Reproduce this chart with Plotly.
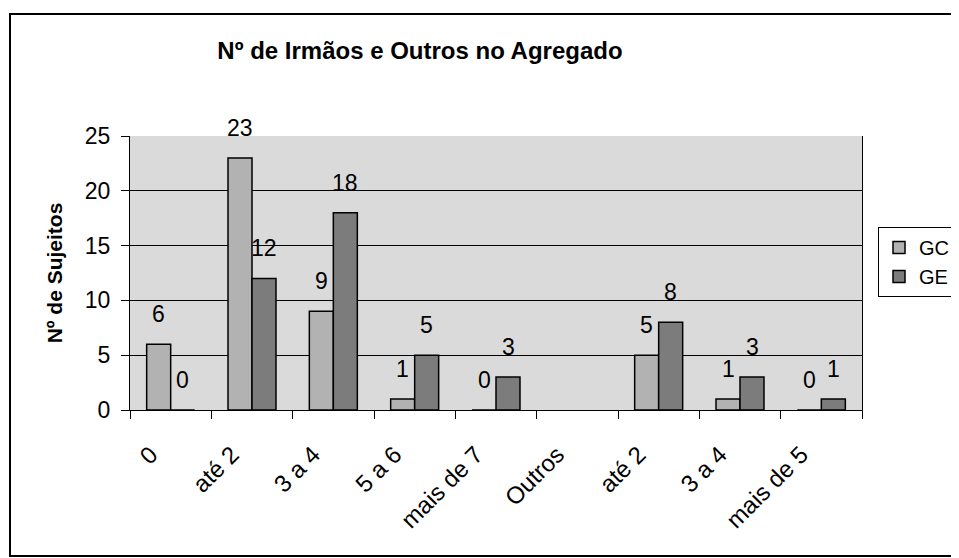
import plotly.graph_objects as go

categories = ["0", "até 2", "3 a 4", "5 a 6", "mais de 7", "Outros", "até 2", "3 a 4", "mais de 5"]
gc_values = [6, 23, 9, 1, 0, None, 5, 1, 0]
ge_values = [0, 12, 18, 5, 3, None, 8, 3, 1]
y_ticks = [0, 5, 10, 15, 20, 25]

positions = list(range(len(categories)))

# page has an 8px body margin; figure pixels = page pixels - 8
OFF = 8
W, H = 959 - OFF, 558 - OFF
L, R, T, B = 130 - OFF, 959 - 862, 136 - OFF, 558 - 410
pw, ph = W - L - R, H - T - B

def px_x(p):  # page pixel -> paper x
    return (p - OFF - L) / pw

def px_y(p):  # page pixel -> paper y
    return (H - B - (p - OFF)) / ph

font = "Liberation Sans, Arial, sans-serif"
BARGAP = 0.41
half = (1 - BARGAP) / 4  # offset of each bar centre from the category centre

fig = go.Figure()
fig.add_trace(go.Bar(
    x=positions, y=gc_values, name="GC",
    marker=dict(color="#b2b2b2", line=dict(color="black", width=1.5)),
))
fig.add_trace(go.Bar(
    x=positions, y=ge_values, name="GE",
    marker=dict(color="#7c7c7c", line=dict(color="black", width=1.5)),
))

# data labels, lifted above the bar ends like Excel's "outside end"
annotations = []
for vals, sign in ((gc_values, -1), (ge_values, 1)):
    for p, v in zip(positions, vals):
        if v is None:
            continue
        annotations.append(dict(
            x=p + sign * half, y=v, xref="x", yref="y", text=str(v),
            showarrow=False, yanchor="bottom", xanchor="center", yshift=15,
            font=dict(size=23, family=font, color="black"),
        ))

fig.update_layout(
    width=W, height=H,
    margin=dict(l=L, r=R, t=T, b=B, autoexpand=False),
    paper_bgcolor="white",
    plot_bgcolor="#dadada",
    barmode="group", bargap=BARGAP, bargroupgap=0,
    font=dict(family=font, color="black", size=18),
    title=dict(text="<b>Nº de Irmãos e Outros no Agregado</b>",
               x=(420 - OFF) / W, xanchor="center", y=1 - (51 - OFF) / H, yanchor="middle",
               font=dict(size=24, family=font, color="black")),
    legend=dict(x=(878 - OFF) / W, y=1 - (227 - OFF) / H, xref="container", yref="container",
                xanchor="left", yanchor="top",
                bgcolor="white", bordercolor="black", borderwidth=1,
                font=dict(size=20, family=font), tracegroupgap=10, itemwidth=30),
    showlegend=True,
    annotations=annotations,
)
fig.update_xaxes(
    range=[-0.5, len(categories) - 0.5], automargin=False,
    tickmode="array", tickvals=positions, ticktext=categories,
    tickangle=-45, ticks="", showgrid=False, zeroline=False,
    showline=True, linecolor="black", linewidth=1, mirror=False,
    tickfont=dict(size=24, family=font),
    ticklabelstandoff=20, ticklabelshift=-20,
    minor=dict(tick0=-0.5, dtick=1, ticks="outside", ticklen=8, tickcolor="black", showgrid=False),
)
fig.update_yaxes(
    range=[0, 25], tickmode="array", tickvals=y_ticks, automargin=False,
    ticks="outside", ticklen=8, tickcolor="black", ticklabelstandoff=6,
    showgrid=True, gridcolor="black", gridwidth=1,
    zeroline=False, showline=True, linecolor="black", linewidth=1, mirror=True,
    tickfont=dict(size=23, family=font),
    title=dict(text="<b>Nº de Sujeitos</b>", font=dict(size=21, family=font), standoff=16),
)

# outer chart frame
fig.add_shape(type="rect", xref="paper", yref="paper",
              x0=px_x(10), x1=px_x(957), y0=px_y(556), y1=px_y(14),
              line=dict(color="black", width=2), fillcolor="rgba(0,0,0,0)", layer="below")

fig.write_html("out.html")
